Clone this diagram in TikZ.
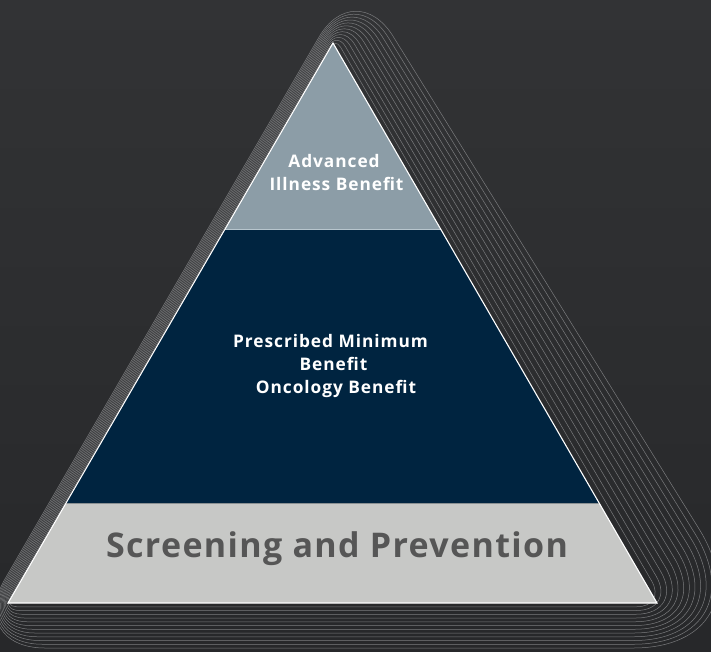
\documentclass[tikz,border=0pt]{standalone}
\usepackage{fontspec}
\setmainfont{Open Sans}
\newfontfamily\smallfont{Open Sans}[LetterSpace=5.5]
\newfontfamily\bigfont{Open Sans}[LetterSpace=4]
\usetikzlibrary{calc}
\definecolor{bgtop}{HTML}{323335}
\definecolor{bgbot}{HTML}{27282A}
\definecolor{ghostc}{HTML}{7A7B7D}
\definecolor{tierA}{HTML}{8C9DA7}
\definecolor{tierB}{HTML}{002440}
\definecolor{tierC}{HTML}{C7C8C6}
\definecolor{sepA}{HTML}{B8C6CE}
\definecolor{sepB}{HTML}{8A9092}
\definecolor{basetext}{HTML}{565656}
\tikzset{
  ghost/.style={draw=ghostc, line width=0.5pt},
  smalllabel/.style={text=white, font=\smallfont\bfseries\fontsize{17.3}{20}\selectfont, anchor=base, inner sep=0pt},
  biglabel/.style={text=basetext, font=\bigfont\bfseries\fontsize{34}{40}\selectfont, anchor=base, inner sep=0pt},
  outline/.style={draw=white, line width=1.1pt, line join=miter}
}
\begin{document}
\begin{tikzpicture}[x=1pt,y=-1pt]
\useasboundingbox (0,0) rectangle (711,651);
\shade[top color=bgtop, bottom color=bgbot] (0,0) rectangle (711,651);
\begin{scope}
\clip (0,0) rectangle (711,651);
\foreach \i in {1,...,12}{
  \pgfmathsetmacro\t{\i/12}
  \pgfmathsetmacro\tx{333+22*\t}
  \pgfmathsetmacro\ty{43-68*\t}
  \pgfmathsetmacro\lx{8-43*\t}
  \pgfmathsetmacro\by{603+45*\t}
  \pgfmathsetmacro\rx{657+116*\t}
  \pgfmathsetmacro\rT{6+66*\t}
  \pgfmathsetmacro\rL{6+74*\t}
  \pgfmathsetmacro\rR{20+120*\t}
  \pgfmathsetmacro\cT{0.45*\rT}
  \pgfmathsetmacro\cL{0.45*\rL}
  \pgfmathsetmacro\cR{0.45*\rR}
  \coordinate (gT) at (\tx,\ty);
  \coordinate (gL) at (\lx,\by);
  \coordinate (gR) at (\rx,\by);
  \draw[ghost] ($(gL)!0.5!(gR)$) -- ($(gR)!\rR pt!(gL)$)
     .. controls ($(gR)!\cR pt!(gL)$) and ($(gR)!\cR pt!(gT)$) .. ($(gR)!\rR pt!(gT)$)
     -- ($(gT)!\rT pt!(gR)$)
     .. controls ($(gT)!\cT pt!(gR)$) and ($(gT)!\cT pt!(gL)$) .. ($(gT)!\rT pt!(gL)$)
     -- ($(gL)!\rL pt!(gT)$)
     .. controls ($(gL)!\cL pt!(gT)$) and ($(gL)!\cL pt!(gR)$) .. ($(gL)!\rL pt!(gR)$)
     -- cycle;
}
\end{scope}
% main pyramid
\coordinate (A) at (333,43);
\coordinate (BL) at (8,603);
\coordinate (BR) at (657,603);
\coordinate (L1) at ($(A)!0.33214!(BL)$);
\coordinate (R1) at ($(A)!0.33214!(BR)$);
\coordinate (L2) at ($(A)!0.82143!(BL)$);
\coordinate (R2) at ($(A)!0.82143!(BR)$);
\fill[tierA] (A) -- (L1) -- (R1) -- cycle;
\fill[tierB] (L1) -- (L2) -- (R2) -- (R1) -- cycle;
\fill[tierC] (L2) -- (BL) -- (BR) -- (R2) -- cycle;
\draw[sepA, line width=1pt] (L1) -- (R1);
\draw[sepB, line width=1pt] (L2) -- (R2);
\draw[outline] (A) -- (BL) -- (BR) -- cycle;
% labels
\node[smalllabel] (t1) at (334,167) {Advanced};
\node[smalllabel] (t2) at (336.5,190) {Illness Benefit};
\node[smalllabel] (m1) at (330.5,347) {Prescribed Minimum};
\node[smalllabel] (m2) at (333.5,370.5) {Benefit};
\node[smalllabel] (m3) at (336,393.5) {Oncology Benefit};
\node[biglabel] (b1) at (337,557) {Screening and Prevention};
\end{tikzpicture}
\end{document}
